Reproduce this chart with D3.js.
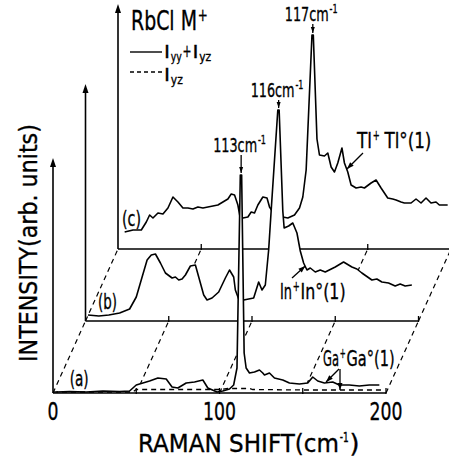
<!DOCTYPE html>
<html><head><meta charset="utf-8">
<script src="https://cdn.jsdelivr.net/npm/d3@7/dist/d3.min.js"></script>
<style>body{margin:0;background:#fff}svg{display:block}text{font-family:"DejaVu Sans",sans-serif;fill:#000;stroke:#000;stroke-width:0.35px}</style>
</head><body><svg id="chart" width="449" height="460"></svg>
<script>
// ---------- DATA ----------
const panels = ["(a)", "(b)", "(c)"];           // front to back
const xTickValues = [0, 100, 200];
const gridValues = [0, 50, 100, 150, 200];
// [Raman shift cm^-1, intensity arb. units]
const specA = [[2,1],[10,1.5],[20,1],[30,2],[40,1.5],[46,2],[50,8],[54,10],[58,12],[63,15],[68,14],[71.5,6],[75,5],[80,10],[85,11],[90,13],[93,5],[98.5,1],[102,2],[106,4],[108.5,8],[110.5,25],[112.5,218],[113.3,218],[114.8,40],[116,25],[118,20],[121,21],[124,23],[126,20],[127,18],[130,20],[133,15],[138,13],[142,10],[148,9],[153,10],[156,16],[159,12],[163,10],[168,11],[172,8],[178,8],[184,7],[190,8],[196,8]];
const iyzA = [[0,1],[48,1],[50,3.5],[100,3.5],[105,4.5],[118,4.5],[120,3.5],[150,3],[198,3]];
const specB = [[1.5,6],[8,5],[14,6],[20.5,8],[26.5,12],[30.5,24],[34,44],[37,61],[39.5,66],[42,67],[45,58],[48,48],[52,43],[54,44],[56,41],[58,42],[60,46],[63,55],[66,56],[68,44],[71,26],[73,21],[76,23],[80,29],[84,43],[86.5,51],[89,44],[90,31],[92,22],[95,21],[98,22],[101,23],[104,39],[106,31],[108,36],[110,71],[111.5,110],[115.5,211],[116.3,211],[118.5,110],[119.3,93],[122,95],[124.5,98],[127,88],[129,70],[131,58],[133,51],[135,53],[138,49],[141,51],[144,49],[150,54],[155,59],[160,54],[163,52],[166,48],[172,41],[175,42],[178,39],[182,38],[186,35],[189,37],[192,35],[196,36]];
const specC = [[4,17],[9,19],[14,19],[17,27],[19,34],[21,31],[24,36],[27,35],[30,41],[33,52],[36,47],[39,41],[42,41],[45,40],[48,42],[51,41],[54,42],[57,43],[60,44],[63,47],[66,50],[68,55],[70,54],[72,44],[73.5,30],[75,31],[78,32],[80,37],[82,36],[84,44],[87,52],[89.5,51],[91,42],[93,37],[96,34],[99,32],[102,31],[106,34],[109,41],[111,52],[113,79],[116.5,214],[117.3,214],[119.5,110],[121,94],[124,93],[126,96],[128,82],[130,77],[132,86],[134.5,101],[136,86],[138,77],[140,64],[143,61],[146,62],[148,61],[152,66],[155,69],[158,61],[162,51],[165,50],[167,49],[170,47],[172,46],[176,46],[179,50],[182,46],[185,51],[188,46],[191,47],[193,44],[198,44]];
const spectra = [specA, specB, specC];
const peakLabels = [["113", 0, 113, 218], ["116", 1, 116, 211], ["117", 2, 117, 214]];

// ---------- LAYOUT ----------
const svg = d3.select("#chart");
const X0 = 53, Y0 = 393, DX = 32.5, DY = -72;
const x = d3.scaleLinear().domain([0, 200]).range([0, 333]);
const y = d3.scaleLinear().domain([0, 100]).range([0, 100]);
const px = (k, v) => X0 + k * DX + x(v);
const py = (k, h) => Y0 + k * DY - y(h);
const axisTop = [235, 237, 245];
const SW = 1.6;

function arrowHead(g, x1, y1, x2, y2, len, wid) {
  const a = Math.atan2(y2 - y1, x2 - x1);
  const bx = x2 - len * Math.cos(a), by = y2 - len * Math.sin(a);
  const nx = -Math.sin(a) * wid / 2, ny = Math.cos(a) * wid / 2;
  g.append("path").attr("d", `M${x2},${y2}L${bx + nx},${by + ny}L${bx - nx},${by - ny}Z`).attr("fill", "#000");
}
function arrow(g, x1, y1, x2, y2, len = 7, wid = 5) {
  g.append("line").attr("x1", x1).attr("y1", y1).attr("x2", x2).attr("y2", y2)
    .attr("stroke", "#000").attr("stroke-width", 1.3);
  arrowHead(g, x1, y1, x2, y2, len, wid);
}
// text squeezed horizontally to a given width (via transform)
function fitText(g, x0, y0, t, fs, w, opts = {}) {
  const outer = g.append("g").attr("transform", `translate(${x0},${y0})` + (opts.rotate ? ` rotate(${opts.rotate})` : ""));
  const inner = outer.append("g");
  const el = inner.append("text").attr("x", 0).attr("y", 0).attr("font-size", fs).text(t);
  if (opts.family) el.attr("font-family", opts.family);
  const nat = el.node().getComputedTextLength();
  const s = w / nat;
  const shift = opts.anchor === "middle" ? -w / 2 : 0;
  inner.attr("transform", `translate(${shift},0) scale(${s},1)`);
  return el;
}
// sequence of pieces: [text, width, fontSize, dy, family]; blank text = gap
function rich(g, x0, y0, parts) {
  let cx = x0;
  parts.forEach(([t, w, fs, dy, fam]) => {
    if (t.trim() !== "") fitText(g, cx, y0 + (dy || 0), t, fs, w, { family: fam });
    cx += w + 0.8;
  });
}

const g = svg.append("g");
for (let k = 2; k >= 0; k--) {
  const pg = g.append("g");
  if (k < 2) {
    gridValues.forEach(v => {
      pg.append("line").attr("x1", px(k, v)).attr("y1", py(k, 0)).attr("x2", px(k + 1, v)).attr("y2", py(k + 1, 0))
        .attr("stroke", "#000").attr("stroke-width", 1.2).attr("stroke-dasharray", "5,4");
    });
  }
  pg.append("line").attr("x1", px(k, 0)).attr("y1", py(k, 0)).attr("x2", px(k, 0)).attr("y2", py(k, axisTop[k]) + 4)
    .attr("stroke", "#000").attr("stroke-width", SW);
  arrowHead(pg, px(k, 0), py(k, 0), px(k, 0), py(k, axisTop[k]), 9, 6);
  const data = spectra[k];
  pg.append("path").datum(data)
    .attr("d", d3.area().x(d => px(k, d[0])).y0(py(k, 0)).y1(d => py(k, d[1])))
    .attr("fill", "#fff");
  pg.append("line").attr("x1", px(k, 0)).attr("y1", py(k, 0)).attr("x2", px(k, 200)).attr("y2", py(k, 0))
    .attr("stroke", "#000").attr("stroke-width", SW);
  gridValues.slice(1).forEach(v => {
    pg.append("line").attr("x1", px(k, v)).attr("y1", py(k, 0) + 1).attr("x2", px(k, v)).attr("y2", py(k, 5))
      .attr("stroke", "#000").attr("stroke-width", 1.3);
  });
  if (k === 0) {
    pg.append("path").datum(iyzA)
      .attr("d", d3.line().x(d => px(0, d[0])).y(d => py(0, d[1])))
      .attr("fill", "none").attr("stroke", "#000").attr("stroke-width", 1.3).attr("stroke-dasharray", "5,4");
  }
  pg.append("path").datum(data)
    .attr("d", d3.line().x(d => px(k, d[0])).y(d => py(k, d[1])))
    .attr("fill", "none").attr("stroke", "#000").attr("stroke-width", SW).attr("stroke-linejoin", "round");
}

// panel labels
const panelLabelPos = [[10, 7], [7.5, 12], [2.4, 23]];
panels.forEach((p, k) => {
  fitText(g, px(k, panelLabelPos[k][0]), py(k, panelLabelPos[k][1]), p, 21, 19);
});

// x tick labels
xTickValues.forEach(v => {
  fitText(g, px(0, v), 420, String(v), 25, String(v).length * 11, { anchor: "middle" });
});

// axis titles
rich(g, 138, 452, [["RAMAN  SHIFT(cm", 201, 25], ["-1", 9, 14, -10], [")", 10, 25]]);
fitText(g, 37, 362, "INTENSITY(arb. units)", 25, 238, { rotate: -90 });

// peak labels (gap between label baseline and peak top)
const peakGap = [23, 13, 14];
peakLabels.forEach(([lab, k, v, h], i) => {
  const cx = px(k, v), top = py(k, h);
  rich(g, cx - 28, top - peakGap[i], [[lab + "cm", 44, 20], ["-1", 8, 12, -8]]);
  arrow(g, cx, top - peakGap[i] + 3, cx, top - 2, 6, 4);
});

// species labels
rich(g, 357, 148, [["Tl", 15, 21], ["+", 7, 14, -8], [" ", 3], ["Tl°(1)", 47, 21]]);
arrow(g, 363, 153, px(2, 137.5), py(2, 80), 7, 5);
rich(g, 280, 299, [["In", 12, 21], ["+", 7, 14, -8], ["In°(1)", 45, 21]]);
arrow(g, 292, 278, px(1, 132), py(1, 55), 7, 5);
rich(g, 323, 366, [["Ga", 16, 21], ["+", 6, 14, -8], ["Ga°(1)", 48, 21]]);
arrow(g, 339, 369, px(0, 164), py(0, 11), 7, 5);
arrow(g, 340, 369, 340, py(0, 3), 7, 5);

// title + legend
rich(g, 131, 30, [["RbCl M", 66, 26], ["+", 10, 17, -9]]);
g.append("line").attr("x1", 130).attr("x2", 162).attr("y1", 52).attr("y2", 52).attr("stroke", "#000").attr("stroke-width", 1.4);
g.append("line").attr("x1", 130).attr("x2", 162).attr("y1", 72).attr("y2", 72).attr("stroke", "#000").attr("stroke-width", 1.4).attr("stroke-dasharray", "4,3");
rich(g, 164, 58, [["I", 6, 18, 0, "DejaVu Serif"], ["yy", 11, 12, 3], ["+", 9, 17, -1], ["I", 6, 18, 0, "DejaVu Serif"], ["yz", 12, 12, 3]]);
rich(g, 164, 81, [["I", 6, 18, 0, "DejaVu Serif"], ["yz", 12, 12, 3]]);
</script></body></html>
